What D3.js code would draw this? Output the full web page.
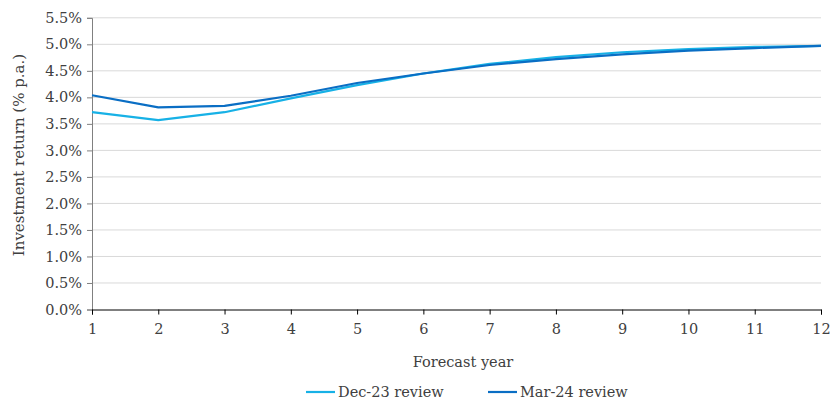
<!DOCTYPE html>
<html>
<head>
<meta charset="utf-8">
<script src="https://cdn.jsdelivr.net/npm/d3@7"></script>
<style>
  html, body { margin: 0; padding: 0; background: #fff; }
  svg text { font-family: "DejaVu Serif", "Liberation Serif", serif; fill: #404040; }
</style>
</head>
<body>
<svg id="chart" width="831" height="403"></svg>
<script>
// Forecast years and investment return projections (% p.a.)
const years = [1, 2, 3, 4, 5, 6, 7, 8, 9, 10, 11, 12];
const dec23 = [3.72, 3.57, 3.72, 3.98, 4.23, 4.45, 4.63, 4.76, 4.85, 4.91, 4.95, 4.97];
const mar24 = [4.04, 3.81, 3.84, 4.03, 4.27, 4.45, 4.61, 4.72, 4.81, 4.88, 4.93, 4.97];
const yTicks = [0, 0.5, 1, 1.5, 2, 2.5, 3, 3.5, 4, 4.5, 5, 5.5];
const seriesNames = ["Dec-23 review", "Mar-24 review"];
const seriesColors = ["#17b1e6", "#0a6ec4"];

const svg = d3.select("#chart");
const margin = { left: 92, right: 10 };
const W = 831;

const x = d3.scaleLinear().domain([1, 12]).range([margin.left, W - margin.right]);
const y = d3.scaleLinear().domain([0, 5.5]).range([309.5, 17.8]);

// horizontal gridlines
svg.append("g").selectAll("line").data(yTicks.filter(d => d > 0)).join("line")
  .attr("x1", x(1)).attr("x2", x(12))
  .attr("y1", d => y(d)).attr("y2", d => y(d))
  .attr("stroke", "#d9d9d9").attr("stroke-width", 1);

// y axis
const yAxis = svg.append("g").attr("transform", `translate(${x(1)},0)`)
  .call(d3.axisLeft(y).tickValues(yTicks).tickSize(5).tickPadding(5)
    .tickFormat(d => d.toFixed(1) + "%"));
yAxis.select(".domain").attr("stroke", "#808080");
yAxis.selectAll(".tick line").attr("stroke", "#808080");
yAxis.selectAll("text").attr("font-size", 14.5).style("fill", "#404040");

// x axis
const xAxis = svg.append("g").attr("transform", `translate(0,${y(0)})`)
  .call(d3.axisBottom(x).tickValues(years).tickSize(5).tickPadding(9));
xAxis.select(".domain").attr("stroke", "#000");
xAxis.selectAll(".tick line").attr("stroke", "#000");
xAxis.selectAll("text").attr("font-size", 14.5).style("fill", "#404040");

// axis titles
svg.append("text")
  .attr("x", 463).attr("y", 367)
  .attr("text-anchor", "middle").attr("font-size", 14.5)
  .text("Forecast year");
svg.append("text")
  .attr("transform", `translate(24,155) rotate(-90)`)
  .attr("text-anchor", "middle").attr("font-size", 15)
  .text("Investment return (% p.a.)");

// series lines
const line = d3.line().x((d, i) => x(years[i])).y(d => y(d));
[dec23, mar24].forEach((s, k) => {
  svg.append("path").datum(s)
    .attr("d", line).attr("fill", "none")
    .attr("stroke", seriesColors[k]).attr("stroke-width", 2.2)
    .attr("stroke-linejoin", "round");
});

// legend
const legendPos = [306, 488];
seriesNames.forEach((name, k) => {
  const g = svg.append("g").attr("transform", `translate(${legendPos[k]},392)`);
  g.append("line").attr("x1", 0).attr("x2", 29).attr("y1", 0).attr("y2", 0)
    .attr("stroke", seriesColors[k]).attr("stroke-width", 2.2);
  g.append("text").attr("x", 32).attr("y", 5).attr("font-size", 14.5).text(name);
});
</script>
</body>
</html>
